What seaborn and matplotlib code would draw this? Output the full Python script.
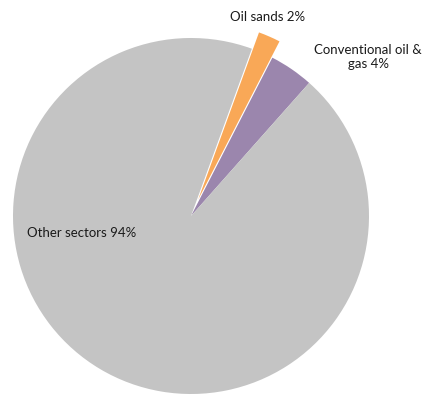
import matplotlib
matplotlib.use("Agg")
import matplotlib.pyplot as plt
import seaborn as sns

sns.set_theme(style="white")
plt.rcParams["font.family"] = ["Lato", "DejaVu Sans"]

# Share of emissions by sector
sectors = ["Oil sands", "Conventional oil & gas", "Other sectors"]
shares = [2, 4, 94]
label_texts = ["Oil sands 2%", "Conventional oil &\ngas 4%", "Other sectors 94%"]
colors = ["#F9A857", "#9B86AD", "#C4C4C4"]
explode = [0.1, 0, 0]

W, H = 424, 395
cx, cy, R = 191, 216, 178  # pie centre and radius in pixels

fig = plt.figure(figsize=(W / 100, H / 100), dpi=100)
ax = fig.add_axes([0, 0, 1, 1])

ax.pie(shares, colors=colors, explode=explode, startangle=70,
       counterclock=False, radius=1.0,
       wedgeprops=dict(linewidth=0))

# pie() resets the limits, so fix the view afterwards
ax.set_xlim(-cx / R, (W - cx) / R)
ax.set_ylim(-(H - cy) / R, cy / R)
ax.set_aspect("equal")
ax.axis("off")


def to_data(px, py):
    return (px - cx) / R, (cy - py) / R


label_pos = [(268, 17), (368, 57), (82, 233)]
for txt, (px, py) in zip(label_texts, label_pos):
    x, y = to_data(px, py)
    ax.text(x, y, txt, ha="center", va="center", fontsize=9.5,
            color="#1a1a1a", linespacing=1.25)

fig.savefig("out.png", dpi=100)
